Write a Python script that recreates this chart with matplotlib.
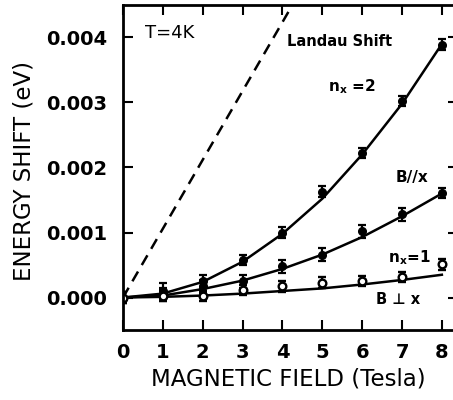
import numpy as np
import matplotlib
matplotlib.use("Agg")
import matplotlib.pyplot as plt

# --- DATA ---

field = [0, 1, 2, 3, 4, 5, 6, 7, 8]

# n_x = 2 data points and fitted curve
nx2_pts = [0.0, 0.00010, 0.00025, 0.00058, 0.00100, 0.00163, 0.00222, 0.00302, 0.00389]
nx2_err = [0.00008, 0.00012, 0.00010, 0.00008, 0.00008, 0.00008, 0.00008, 0.00008, 0.00008]
nx2_fit = [0.0, 0.00006, 0.00024, 0.00055, 0.00098, 0.00152, 0.00220, 0.00298, 0.00390]

# B // x (n_x = 1) data points and fitted curve
bpar_pts = [0.0, 0.00005, 0.00017, 0.00025, 0.00048, 0.00066, 0.00102, 0.00128, 0.00161]
bpar_err = [0.00008, 0.00010, 0.00010, 0.00010, 0.00010, 0.00010, 0.00010, 0.00010, 0.00008]
bpar_fit = [0.0, 0.00003, 0.00013, 0.00026, 0.00044, 0.00066, 0.00093, 0.00125, 0.00160]

# B perp x data points and fitted curve
bperp_pts = [0.0, 0.00003, 0.00002, 0.00012, 0.00017, 0.00023, 0.00025, 0.00032, 0.00051]
bperp_err = [0.00008, 0.00008, 0.00008, 0.00008, 0.00008, 0.00008, 0.00008, 0.00008, 0.00008]
bperp_fit = [0.0, 0.00001, 0.00003, 0.00006, 0.00010, 0.00014, 0.00020, 0.00027, 0.00035]

# Landau shift (straight dashed line)
landau_x = [0, 4.25]
landau_y = [0.0, 0.0045]

xticks = [0, 1, 2, 3, 4, 5, 6, 7, 8]
yticks = [0.000, 0.001, 0.002, 0.003, 0.004]

# --- PLOT ---

plt.rcParams['font.family'] = ['DejaVu Sans']

fig = plt.figure(figsize=(4.53, 4.0), dpi=100)
ax = fig.add_axes([0.2715, 0.175, 0.74, 0.8125])

ax.plot(landau_x, landau_y, color='black', lw=1.8, ls=(0, (4.5, 3)))

ax.plot(field, nx2_fit, color='black', lw=1.8)
ax.plot(field, bpar_fit, color='black', lw=1.8)
ax.plot(field, bperp_fit, color='black', lw=1.8)

ax.errorbar(field, nx2_pts, yerr=nx2_err, fmt='o', ms=5.5, color='black',
            capsize=3, elinewidth=1.6, capthick=1.6)
ax.errorbar(field, bpar_pts, yerr=bpar_err, fmt='o', ms=5.5, color='black',
            capsize=3, elinewidth=1.6, capthick=1.6)
ax.errorbar(field, bperp_pts, yerr=bperp_err, fmt='o', ms=5.5, mfc='white',
            mec='black', mew=1.7, color='black', capsize=3, elinewidth=1.6,
            capthick=1.6)

ax.set_xlim(0, 8.41)
ax.set_ylim(-0.0005, 0.0045)
ax.set_xticks(xticks)
ax.set_xticklabels([str(t) for t in xticks], fontweight='bold')
ax.set_yticks(yticks)
ax.set_yticklabels(['%.3f' % t for t in yticks], fontweight='bold')

ax.tick_params(direction='in', top=True, right=True, length=7, width=1.5,
               labelsize=14)
ax.tick_params(axis='y', pad=11.5)
ax.tick_params(axis='x', pad=9)
for s in ax.spines.values():
    s.set_linewidth(2)

ax.set_xlabel('MAGNETIC FIELD (Tesla)', fontsize=16.5)
ax.set_ylabel('ENERGY SHIFT (eV)', fontsize=16.5)
ax.xaxis.set_label_coords(0.494, -0.115)
ax.yaxis.set_label_coords(-0.26, 0.488)

ax.text(0.56, 0.00407, 'T=4K', fontsize=13, va='center')
ax.text(4.12, 0.00394, 'Landau Shift', fontsize=10.5, fontweight='bold', va='center')
ax.text(5.15, 0.00325, r'n$_\mathbf{x}$ =2', fontsize=11, fontweight='bold', va='center')
ax.text(6.85, 0.00185, 'B//x', fontsize=11, fontweight='bold', va='center')
ax.text(6.65, 0.00062, r'n$_\mathbf{x}$=1', fontsize=11, fontweight='bold', va='center')
ax.text(6.35, -0.00003, 'B ⊥ x', fontsize=10.5, fontweight='bold', va='center')

fig.savefig('out.png', dpi=100)
